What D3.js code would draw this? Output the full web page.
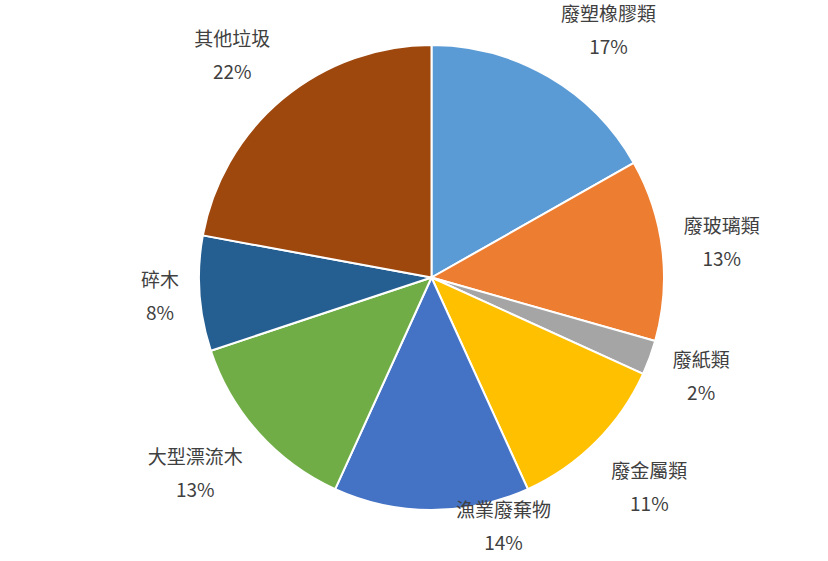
<!DOCTYPE html>
<html>
<head>
<meta charset="utf-8">
<script src="https://cdn.jsdelivr.net/npm/d3@7"></script>
<style>
  body { margin: 0; background: #fff; }
  svg { display: block; }
</style>
</head>
<body>
<svg id="chart" width="828" height="561"></svg>
<script>
const categories = ["廢塑橡膠類", "廢玻璃類", "廢紙類", "廢金屬類", "漁業廢棄物", "大型漂流木", "碎木", "其他垃圾"];
const values = [16.8, 12.6, 2.4, 11.4, 13.6, 13.1, 8.0, 22.1];
const colors = ["#5B9BD5", "#ED7D31", "#A5A5A5", "#FFC000", "#4472C4", "#70AD47", "#255E91", "#9E480E"];

const svg = d3.select("#chart");
const cx = 431.5, cy = 277.5, radius = 232.5;
const fontSize = 19, lineGap = 33;

// a few labels were moved by hand in the original
const labelNudge = {
    "廢塑橡膠類": [27, 11],
    "廢金屬類": [8, 0],
    "漁業廢棄物": [72, -28],
    "大型漂流木": [-10, -7],
    "其他垃圾": [-10, 5]
};

const data = categories.map((c, i) => ({name: c, value: values[i], color: colors[i]}));
const total = d3.sum(values);
const pct = d3.format(".0%");

const pie = d3.pie().sort(null).value(d => d.value);
const arc = d3.arc().innerRadius(0).outerRadius(radius);
const arcs = pie(data);

const g = svg.append("g").attr("transform", `translate(${cx},${cy})`);

g.selectAll("path")
    .data(arcs)
    .join("path")
    .attr("d", arc)
    .attr("fill", d => d.data.color)
    .attr("stroke", "#fff")
    .attr("stroke-width", 2)
    .attr("stroke-linejoin", "round");

const labels = g.selectAll(".label")
    .data(arcs)
    .join("g")
    .attr("class", "label")
    .attr("font-family", "'Noto Sans CJK TC', 'Noto Sans', sans-serif")
    .attr("font-size", fontSize)
    .attr("fill", "#404040")
    .attr("text-anchor", "middle");

labels.append("text")
    .attr("y", -lineGap / 2)
    .attr("dy", "0.36em")
    .text(d => d.data.name);

labels.append("text")
    .attr("y", lineGap / 2)
    .attr("dy", "0.36em")
    .text(d => pct(d.data.value / total));

// place each label block just outside the rim, along the slice's mid angle
labels.attr("transform", function(d) {
    const w = d3.max(d3.select(this).selectAll("text").nodes(), n => n.getComputedTextLength());
    const h = lineGap + fontSize;
    const a = (d.startAngle + d.endAngle) / 2;
    const s = Math.sin(a), c = Math.cos(a);
    const dist = radius + 19 + Math.abs(s) * w / 2 + Math.abs(c) * h / 2;
    const n = labelNudge[d.data.name] || [0, 0];
    return `translate(${s * dist + n[0]},${-c * dist + n[1]})`;
});
</script>
</body>
</html>
